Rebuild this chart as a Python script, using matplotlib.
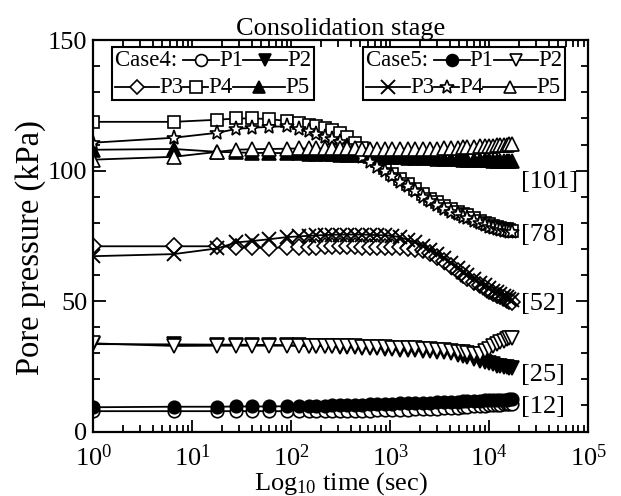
import matplotlib.pyplot as plt
from matplotlib.lines import Line2D
from matplotlib.offsetbox import AnchoredOffsetbox, DrawingArea, HPacker, TextArea, VPacker
from matplotlib.ticker import LogLocator, MultipleLocator, NullFormatter

plt.rcParams.update({
    "font.family": "Liberation Serif",
    "mathtext.fontset": "custom",
    "mathtext.rm": "Liberation Serif",
    "mathtext.it": "Liberation Serif:italic",
    "axes.linewidth": 1.6,
})

# Elapsed time of each reading (sec)
time_s = [1, 6.5, 18, 28, 40, 60, 90, 120, 150, 180, 220, 260, 310, 370, 440,
          520, 620, 740, 880, 1050, 1250, 1500, 1800, 2150, 2550, 3000, 3500,
          4100, 4800, 5400, 6000, 7000, 8000, 9000, 10000, 11000, 12000, 13000,
          14000, 15000, 16000, 17000]

# Case 4 pore pressures (kPa)
c4_p1 = [7.8, 7.8, 7.8, 7.8, 7.8, 7.8, 7.8, 7.8, 7.8, 7.8,
         7.8, 7.9, 7.9, 7.9, 8.0, 8.0, 8.0, 8.1, 8.1, 8.2,
         8.3, 8.4, 8.5, 8.6, 8.7, 8.8, 8.9, 9.0, 9.2, 9.3,
         9.4, 9.6, 9.7, 9.8, 10.0, 10.1, 10.2, 10.3, 10.4, 10.5,
         10.6, 10.7]
c4_p2 = [33.5, 33.4, 33.3, 33.3, 33.2, 33.2, 33.1, 33.0, 32.9, 32.8,
         32.7, 32.6, 32.5, 32.4, 32.3, 32.2, 32.0, 31.9, 31.7, 31.5,
         31.4, 31.2, 31.1, 31.0, 30.8, 30.5, 30.3, 30.0, 29.5, 29.0,
         28.5, 27.8, 27.2, 26.6, 26.1, 25.7, 25.3, 25.0, 24.8, 24.6,
         24.4, 24.2]
c4_p3 = [71.0, 71.0, 71.0, 70.7, 70.6, 70.4, 70.6, 70.7, 70.8, 70.9,
         71.0, 71.0, 71.0, 71.0, 71.0, 70.9, 70.9, 70.8, 70.8, 70.7,
         70.6, 70.5, 70.0, 69.5, 68.5, 67.0, 65.5, 63.5, 61.5, 60.0,
         59.0, 57.5, 56.0, 55.0, 54.0, 53.2, 52.5, 51.8, 51.2, 50.6,
         50.0, 49.5]
c4_p4 = [118.7, 118.7, 119.5, 120.0, 120.0, 119.8, 119.0, 118.3, 117.6, 117.0,
         116.3, 115.5, 114.5, 113.0, 110.7, 108.5, 106.0, 103.5, 101.0, 98.8,
         96.8, 95.0, 93.0, 91.0, 89.3, 87.8, 86.5, 85.3, 84.3, 83.5,
         82.8, 81.8, 80.8, 80.0, 79.4, 78.9, 78.5, 78.1, 77.8, 77.5,
         77.2, 77.0]
c4_p5 = [108.0, 108.3, 107.2, 107.0, 106.8, 106.8, 106.7, 106.6, 106.5, 106.4,
         106.3, 106.2, 106.1, 106.0, 105.9, 105.8, 105.6, 105.5, 105.4, 105.2,
         105.1, 105.0, 104.9, 104.8, 104.7, 104.6, 104.5, 104.4, 104.3, 104.2,
         104.2, 104.1, 104.0, 103.9, 103.9, 103.8, 103.8, 103.7, 103.7, 103.6,
         103.6, 103.5]

# Case 5 pore pressures (kPa)
c5_p1 = [9.3, 9.5, 9.5, 9.6, 9.6, 9.6, 9.7, 9.8, 9.8, 9.9,
         9.9, 10.0, 10.1, 10.1, 10.2, 10.3, 10.4, 10.5, 10.6, 10.7,
         10.8, 10.9, 10.9, 11.0, 11.1, 11.2, 11.3, 11.4, 11.5, 11.6,
         11.6, 11.7, 11.8, 11.9, 12.0, 12.0, 12.1, 12.1, 12.2, 12.2,
         12.3, 12.3]
c5_p2 = [33.8, 32.8, 32.9, 32.9, 32.9, 32.9, 32.9, 32.8, 32.8, 32.8,
         32.8, 32.7, 32.7, 32.6, 32.6, 32.5, 32.5, 32.4, 32.3, 32.2,
         32.1, 32.0, 31.9, 31.8, 31.6, 31.4, 31.2, 31.0, 30.6, 30.3,
         30.0, 29.6, 29.8, 30.8, 31.8, 32.7, 33.5, 34.2, 34.8, 35.3,
         35.7, 36.0]
c5_p3 = [67.2, 68.0, 70.2, 72.5, 73.0, 73.7, 74.5, 74.8, 75.0, 75.2,
         75.3, 75.4, 75.5, 75.5, 75.5, 75.5, 75.4, 75.3, 75.2, 75.0,
         74.5, 73.5, 72.5, 71.0, 69.5, 68.0, 66.5, 64.5, 62.5, 61.0,
         60.0, 58.5, 57.0, 56.0, 55.0, 54.0, 53.3, 52.6, 52.0, 51.4,
         50.8, 50.3]
c5_p4 = [110.7, 112.6, 114.5, 116.0, 116.4, 116.8, 117.0, 116.0, 115.0, 114.0,
         113.0, 112.0, 110.8, 109.3, 107.5, 105.3, 103.3, 101.5, 99.8, 97.8,
         95.8, 94.0, 92.0, 90.0, 88.3, 86.8, 85.4, 84.2, 83.2, 82.4,
         81.7, 80.7, 79.8, 79.1, 78.5, 78.0, 77.6, 77.3, 77.0, 76.8,
         76.6, 76.4]
c5_p5 = [104.2, 105.3, 107.2, 108.0, 108.2, 108.3, 108.4, 108.5, 108.5, 108.5,
         108.5, 108.5, 108.5, 108.5, 108.5, 108.4, 108.4, 108.3, 108.3, 108.2,
         108.2, 108.2, 108.2, 108.3, 108.3, 108.4, 108.5, 108.6, 108.8, 108.9,
         109.0, 109.2, 109.3, 109.4, 109.5, 109.6, 109.7, 109.8, 109.9, 110.0,
         110.1, 110.2]

# Initial pressure tags at the right end of each group
tag_text = ["[101]", "[78]", "[52]", "[25]", "[12]"]
tag_y = [95.5, 75.5, 49.0, 21.5, 9.5]

WHITE = dict(markerfacecolor="white")
BLACK = dict(markerfacecolor="black")
STYLE = {
    "c4_p1": dict(marker="o", markersize=9, **WHITE),
    "c4_p2": dict(marker="v", markersize=9.5, **BLACK),
    "c4_p3": dict(marker="D", markersize=8, **WHITE),
    "c4_p4": dict(marker="s", markersize=9, **WHITE),
    "c4_p5": dict(marker="^", markersize=9.5, **BLACK),
    "c5_p1": dict(marker="o", markersize=9, **BLACK),
    "c5_p2": dict(marker="v", markersize=9.5, **WHITE),
    "c5_p3": dict(marker="x", markersize=10, markeredgewidth=1.4),
    "c5_p4": dict(marker="*", markersize=11, **WHITE),
    "c5_p5": dict(marker="^", markersize=9.5, **WHITE),
}
SERIES = {
    "c4_p1": c4_p1, "c4_p2": c4_p2, "c4_p3": c4_p3, "c4_p4": c4_p4, "c4_p5": c4_p5,
    "c5_p1": c5_p1, "c5_p2": c5_p2, "c5_p3": c5_p3, "c5_p4": c5_p4, "c5_p5": c5_p5,
}

TICK_FS = 19
LEG_FS = 16.5


def legend_row(entries, lead=None):
    # one row of "—marker—label" keys, optionally led by a case name
    parts = []
    if lead:
        parts.append(TextArea(lead + " ", textprops=dict(fontsize=LEG_FS)))
    for key, label, width in entries:
        da = DrawingArea(width, 12, 0, 0)
        da.add_artist(Line2D([0, width], [6, 6], color="k", lw=1.3))
        st = dict(STYLE[key])
        st["markersize"] = st["markersize"] * 0.95
        da.add_artist(Line2D([width / 2], [6], color="k", ls="none",
                             markeredgewidth=st.pop("markeredgewidth", 1.2), **st))
        parts.append(da)
        parts.append(TextArea(label, textprops=dict(fontsize=LEG_FS)))
    return HPacker(children=parts, sep=0, pad=0, align="center")


def case_legend(ax, case, x0):
    rows = VPacker(children=[
        legend_row([(f"{case}_p1", "P1", 26), (f"{case}_p2", "P2", 32)],
                   lead="Case" + case[1] + ":"),
        legend_row([(f"{case}_p3", "P3", 32), (f"{case}_p4", "P4", 18),
                    (f"{case}_p5", "P5", 38)]),
    ], sep=4, pad=0, align="left")
    box = AnchoredOffsetbox(loc="upper left", child=rows, pad=0.2, borderpad=0,
                            frameon=True, bbox_to_anchor=(x0, 0.982),
                            bbox_transform=ax.transAxes)
    box.patch.set_boxstyle("square", pad=0)
    box.patch.set_linewidth(1.5)
    box.patch.set_edgecolor("black")
    ax.add_artist(box)


fig, ax = plt.subplots(figsize=(6.21, 4.96), dpi=100)
fig.subplots_adjust(left=0.150, right=0.947, bottom=0.130, top=0.919)

for key, values in SERIES.items():
    ax.plot(time_s, values, color="k", lw=1.3, markeredgecolor="k",
            **({"markeredgewidth": 1.2} | STYLE[key]))

for text, y in zip(tag_text, tag_y):
    ax.text(2.1e4, y, text, fontsize=TICK_FS, va="center", ha="left")

ax.set_xscale("log")
ax.set_xlim(1, 1e5)
ax.set_ylim(0, 150)
ax.yaxis.set_major_locator(MultipleLocator(50))
ax.yaxis.set_minor_locator(MultipleLocator(10))
ax.xaxis.set_major_locator(LogLocator(base=10, numticks=10))
ax.xaxis.set_minor_locator(LogLocator(base=10, subs=range(2, 10), numticks=10))
ax.xaxis.set_minor_formatter(NullFormatter())
ax.tick_params(which="both", direction="in", top=True, right=True,
               labelsize=TICK_FS, width=1.3)
ax.tick_params(which="major", length=9, pad=4)
ax.tick_params(which="minor", length=5)
ax.tick_params(axis="x", which="major", pad=9)

ax.set_xlabel("Log$_{10}$ time (sec)", fontsize=TICK_FS, labelpad=0)
ax.set_ylabel("Pore pressure (kPa)", fontsize=23.5)
ax.yaxis.set_label_coords(-0.095, 0.47)
ax.set_title("Consolidation stage", fontsize=TICK_FS, pad=2)

case_legend(ax, "c4", 0.038)
case_legend(ax, "c5", 0.545)

fig.savefig("out.png", dpi=100)
